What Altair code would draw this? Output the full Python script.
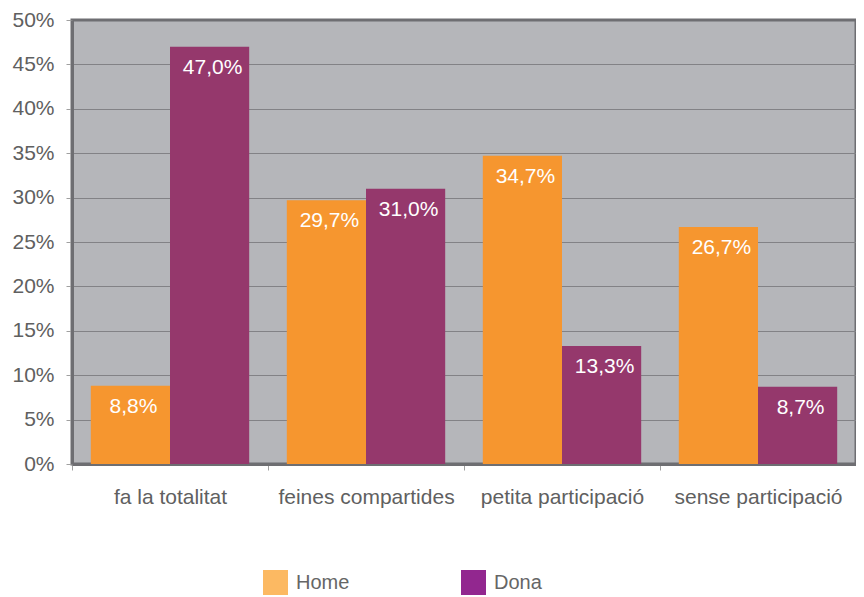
import altair as alt
import pandas as pd

categories = ["fa la totalitat", "feines compartides", "petita participació", "sense participació"]
series = ["Home", "Dona"]
home_values = [8.8, 29.7, 34.7, 26.7]
dona_values = [47.0, 31.0, 13.3, 8.7]
y_ticks = [0, 5, 10, 15, 20, 25, 30, 35, 40, 45, 50]

bar_colors = ["#F6962F", "#95386C"]
legend_colors = ["#FCB962", "#92278F"]

rows = []
for cat, h, d in zip(categories, home_values, dona_values):
    for s, v in (("Home", h), ("Dona", d)):
        rows.append({"category": cat, "series": s, "value": v,
                     "label": f"{v:.1f}".replace(".", ",") + "%"})
df = pd.DataFrame(rows)

FONT = "Liberation Sans"
TEXT = "#606060"
DARK = "#6e6e72"

base = alt.Chart(df).encode(
    x=alt.X("category:N", sort=categories,
            scale=alt.Scale(paddingInner=0, paddingOuter=0),
            axis=alt.Axis(title=None, labelAngle=0, tickBand="extent",
                          domainColor=DARK, domainWidth=3,
                          tickColor="#a0a0a0", tickSize=6, tickWidth=1,
                          labelFontSize=21, labelFont=FONT, labelColor=TEXT,
                          labelPadding=16)),
    xOffset=alt.XOffset("series:N", sort=series,
                        scale=alt.Scale(paddingInner=0, paddingOuter=0.2375)),
    y=alt.Y("value:Q", scale=alt.Scale(domain=[0, 50], nice=False),
            axis=alt.Axis(title=None, values=y_ticks,
                          labelExpr="datum.value + '%'",
                          grid=True,
                          gridColor={"condition": {"test": "datum.value === 0 || datum.value === 50",
                                                   "value": DARK},
                                     "value": "#828286"},
                          gridWidth=1,
                          domainColor=DARK, domainWidth=3,
                          tickColor="#a0a0a0", tickSize=6, tickWidth=1,
                          labelFontSize=21, labelFont=FONT, labelColor=TEXT,
                          labelPadding=12)),
)

bars = base.mark_bar().encode(
    color=alt.Color("series:N", sort=series,
                    scale=alt.Scale(domain=series, range=bar_colors), legend=None)
)

labels = base.mark_text(color="white", font=FONT, fontSize=21,
                        baseline="alphabetic", align="center", dy=27, dx=3).encode(
    text="label:N"
)

legend_layer = base.mark_square(opacity=0).encode(
    fill=alt.Fill("series:N", sort=series,
                  scale=alt.Scale(domain=series, range=legend_colors),
                  legend=alt.Legend(title=None, orient="none", legendX=191, legendY=550,
                                    direction="horizontal", columns=2, columnPadding=111,
                                    symbolType="square", symbolSize=625, symbolStrokeWidth=0,
                                    symbolOpacity=1, labelFontSize=20, labelFont=FONT,
                                    labelColor="#666666", labelOffset=8, padding=0))
)

chart = alt.layer(bars, labels, legend_layer).resolve_scale(color="independent").properties(
    width=784, height=444,
    autosize=alt.AutoSizeParams(type="none"),
    padding={"left": 64, "top": 12, "right": 0, "bottom": 132},
).configure_view(fill="#B5B6BA", stroke=DARK, strokeWidth=3)

chart.save("out.html", embed_options={"renderer": "svg", "actions": False})
